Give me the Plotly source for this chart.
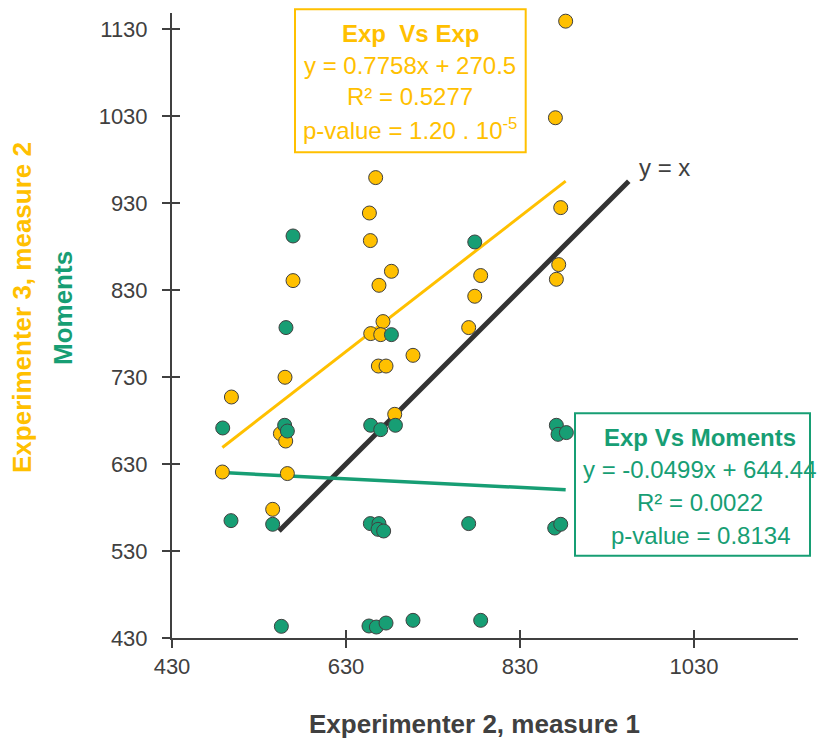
import plotly.graph_objects as go

# ---------------- data ----------------
exp_x = [882.5, 870.7, 876.8, 874.5, 871.8, 784.8, 778.0, 771.0, 664.1, 656.9,
         658.0, 682.2, 569.1, 667.9, 672.5, 658.4, 669.9, 707.0, 667.2, 676.0,
         559.9, 498.3, 554.6, 560.7, 487.9, 562.6, 545.7, 686.0]
exp_y = [1139.0, 1028.0, 924.7, 859.2, 842.3, 846.6, 822.8, 786.8, 959.2, 918.5,
         886.8, 851.5, 840.8, 835.4, 793.7, 779.9, 778.7, 754.9, 742.6, 742.6,
         729.7, 707.0, 664.9, 656.4, 620.8, 619.0, 577.9, 687.1]

mom_x = [569.1, 778.0, 682.2, 561.0, 488.3, 559.5, 562.6, 497.8, 545.7, 658.4,
         669.9, 686.8, 658.0, 667.9, 666.8, 673.3, 555.7, 656.4, 664.9, 676.0,
         707.0, 871.8, 873.7, 883.3, 771.0, 869.9, 876.8, 784.8]
mom_y = [892.1, 885.2, 778.7, 786.8, 671.4, 674.5, 667.9, 564.9, 560.7, 674.5,
         669.5, 674.5, 561.5, 561.5, 554.9, 553.0, 443.4, 443.8, 442.6, 447.2,
         450.3, 674.5, 664.1, 666.1, 561.5, 556.4, 560.7, 450.3]

fit_exp = {"slope": 0.7758, "intercept": 270.5}
fit_mom = {"slope": -0.0499, "intercept": 644.44}
identity_x = [553, 955]

tick_vals = [430, 530, 630, 730, 830, 930, 1030, 1130]
x_tick_vals = [430, 630, 830, 1030]

YELLOW = "#FFC000"
GREEN = "#179E74"
DARK = "#404040"
FONT = "Liberation Sans, Arial, sans-serif"

x_lo, x_hi = min(exp_x), max(exp_x)
fit_x = [x_lo, x_hi]

fig = go.Figure()

# identity line
fig.add_trace(go.Scatter(x=identity_x, y=identity_x, mode="lines",
                         line=dict(color="#333333", width=5), showlegend=False,
                         hoverinfo="skip"))
# trend lines
fig.add_trace(go.Scatter(x=fit_x, y=[fit_exp["slope"] * v + fit_exp["intercept"] for v in fit_x],
                         mode="lines", line=dict(color=YELLOW, width=3),
                         showlegend=False, hoverinfo="skip"))
fig.add_trace(go.Scatter(x=fit_x, y=[fit_mom["slope"] * v + fit_mom["intercept"] for v in fit_x],
                         mode="lines", line=dict(color=GREEN, width=3.5),
                         showlegend=False, hoverinfo="skip"))
# points
fig.add_trace(go.Scatter(x=exp_x, y=exp_y, mode="markers", name="Exp",
                         marker=dict(color=YELLOW, size=14, line=dict(color=DARK, width=1)),
                         showlegend=False))
fig.add_trace(go.Scatter(x=mom_x, y=mom_y, mode="markers", name="Moments",
                         marker=dict(color=GREEN, size=14, line=dict(color=DARK, width=1)),
                         showlegend=False))
# dummy trace for overlay axes (inside ticks -> crossing ticks)
fig.add_trace(go.Scatter(x=[None], y=[None], xaxis="x2", yaxis="y2",
                         showlegend=False, hoverinfo="skip"))

W, H = 818, 742
L, R, T, B = 172, 20, 13, 104
pw, ph = W - L - R, H - T - B
k = 0.87
xr = [430, 430 + pw / k]
yr = [430, 430 + ph / k]

axis_common = dict(showgrid=False, zeroline=False, showline=True, linecolor=DARK,
                   linewidth=2, ticks="outside", ticklen=8, tickwidth=2, tickcolor=DARK,
                   tickfont=dict(family=FONT, size=22, color=DARK))

fig.update_layout(
    width=W, height=H,
    margin=dict(l=L, r=R, t=T, b=B),
    plot_bgcolor="white", paper_bgcolor="white",
    xaxis=dict(range=xr, tickvals=x_tick_vals, **axis_common),
    yaxis=dict(range=yr, tickvals=tick_vals, ticklabelstandoff=10, **axis_common),
    xaxis2=dict(range=xr, tickvals=x_tick_vals, overlaying="x", anchor="y2", side="bottom",
                showgrid=False, zeroline=False, showline=False, ticks="inside",
                ticklen=8, tickwidth=2, tickcolor=DARK, showticklabels=False),
    yaxis2=dict(range=yr, tickvals=tick_vals, overlaying="y", anchor="x2", side="left",
                showgrid=False, zeroline=False, showline=False, ticks="inside",
                ticklen=8, tickwidth=2, tickcolor=DARK, showticklabels=False),
    showlegend=False,
)

def px2paper_x(px):
    return (px - L) / pw

def py2paper_y(py):
    return (H - B - py) / ph

ann = []
# axis titles
ann.append(dict(text="<b>Experimenter 2, measure 1</b>", x=px2paper_x(474), y=py2paper_y(724),
                xref="paper", yref="paper", showarrow=False, xanchor="center", yanchor="middle",
                font=dict(family=FONT, size=26, color=DARK)))
ann.append(dict(text="<b>Experimenter 3, measure 2</b>", x=px2paper_x(22), y=py2paper_y(308),
                xref="paper", yref="paper", showarrow=False, textangle=-90,
                xanchor="center", yanchor="middle",
                font=dict(family=FONT, size=26, color=YELLOW)))
ann.append(dict(text="<b>Moments</b>", x=px2paper_x(63), y=py2paper_y(308),
                xref="paper", yref="paper", showarrow=False, textangle=-90,
                xanchor="center", yanchor="middle",
                font=dict(family=FONT, size=26, color=GREEN)))

# yellow box text
ylines = ["<b>Exp&nbsp; Vs Exp</b>", "y = 0.7758x + 270.5", "R² = 0.5277",
          "p-value = 1.20 . 10<sup>-5</sup>"]
for i, t in enumerate(ylines):
    ann.append(dict(text=t, x=px2paper_x(410), y=py2paper_y(33 + 32 * i),
                    xref="paper", yref="paper", showarrow=False,
                    xanchor="center", yanchor="middle",
                    font=dict(family=FONT, size=24, color=YELLOW)))
glines = ["<b>Exp Vs Moments</b>", "y = -0.0499x + 644.44", "R² = 0.0022", "p-value = 0.8134"]
for i, t in enumerate(glines):
    ann.append(dict(text=t, x=px2paper_x(700), y=py2paper_y(437 + 32.7 * i),
                    xref="paper", yref="paper", showarrow=False,
                    xanchor="center", yanchor="middle",
                    font=dict(family=FONT, size=24, color=GREEN)))

ann.append(dict(text="y = x", x=965, y=971, xref="x", yref="y", showarrow=False,
                xanchor="left", yanchor="middle", font=dict(family=FONT, size=24, color=DARK)))

fig.update_layout(annotations=ann)

fig.add_shape(type="rect", xref="paper", yref="paper",
              x0=px2paper_x(295), x1=px2paper_x(525.7), y0=py2paper_y(152.3), y1=py2paper_y(9.3),
              line=dict(color=YELLOW, width=2), layer="above")
fig.add_shape(type="rect", xref="paper", yref="paper",
              x0=px2paper_x(575), x1=px2paper_x(810), y0=py2paper_y(555.7), y1=py2paper_y(413.3),
              line=dict(color=GREEN, width=2), layer="above")

fig.write_html("out.html")
